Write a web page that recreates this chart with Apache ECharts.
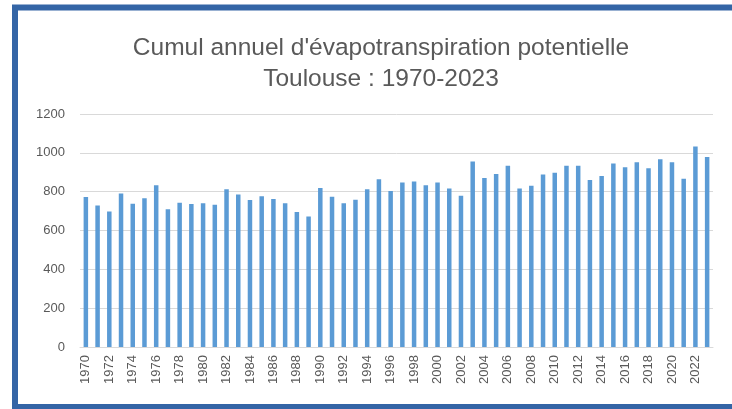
<!DOCTYPE html>
<html><head><meta charset="utf-8">
<script src="https://cdn.jsdelivr.net/npm/echarts@6/dist/echarts.min.js"></script>
<style>html,body{margin:0;padding:0;background:#fff}#c{width:732px;height:409px}</style>
</head><body><div id="c"></div>
<script>
const years = [];
for (let y = 1970; y <= 2023; y++) years.push(String(y));
const etp = [772,729,698,790,738,766,833,710,743,736,740,733,812,786,757,776,762,
  740,695,672,819,774,740,759,812,864,803,847,852,833,847,816,779,955,
  871,891,934,816,831,888,898,934,934,860,881,945,926,952,921,967,952,867,1033,978];
const titleLines = ["Cumul annuel d'évapotranspiration potentielle", "Toulouse : 1970-2023"];

const chart = echarts.init(document.getElementById('c'), null, {renderer:'canvas'});
chart.setOption({
  backgroundColor:'#fff',
  animation:false,
  title:{text:titleLines.join('\n'), left:376, textAlign:'center', top:28,
    textStyle:{fontFamily:'Liberation Sans', fontSize:24.5, fontWeight:'normal', color:'#595959', lineHeight:31}},
  graphic:[{type:'polyline', shape:{points:[[15,409],[15,7.5],[732,7.5]]}, style:{stroke:'#3465a6', lineWidth:6, fill:null}},
    {type:'line', shape:{x1:15,y1:406.5,x2:732,y2:406.5}, style:{stroke:'#3465a6', lineWidth:5}}],
  grid:{left:80, right:19, top:114, bottom:62, containLabel:false},
  xAxis:{type:'category', data:years, boundaryGap:true,
    axisLine:{lineStyle:{color:'#d9d9d9'}}, axisTick:{show:false},
    axisLabel:{rotate:90, interval:1, color:'#595959', fontSize:13, fontFamily:'Liberation Sans', margin:8}},
  yAxis:{type:'value', min:0, max:1200, interval:200,
    axisLine:{show:false}, axisTick:{show:false},
    splitLine:{lineStyle:{color:'#d9d9d9'}},
    axisLabel:{color:'#595959', fontSize:13, fontFamily:'Liberation Sans', margin:15, formatter:(v)=>String(v)}},
  series:[{type:'bar', data:etp, barWidth:4.5, itemStyle:{color:'#5b9bd5'}}]
});
</script></body></html>
